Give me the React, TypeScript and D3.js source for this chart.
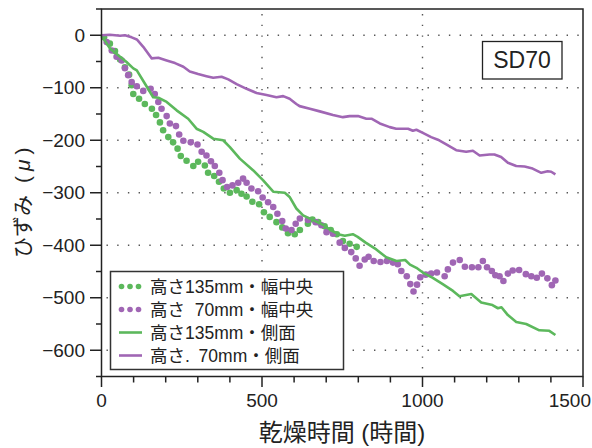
import React, { useRef, useEffect } from "react";
import * as d3 from "d3";

// [hours, strain (μ)]
const h135Center: [number, number][] = [
  [8, -4], [26, -16], [42, -30], [58, -46], [73, -61], [86, -75], [94, -95],
  [99, -112], [117, -121], [135, -131], [157, -140], [170, -152], [182, -166],
  [192, -181], [208, -194], [223, -204], [237, -216], [247, -230], [265, -239],
  [286, -249], [301, -241], [322, -248], [332, -262], [351, -268], [366, -279],
  [381, -292], [400, -300], [421, -295], [436, -302], [452, -307], [470, -317],
  [491, -322], [506, -337], [524, -346], [545, -356], [563, -366], [581, -377],
  [602, -379], [618, -371], [643, -359], [657, -351], [675, -356], [695, -364],
  [714, -371], [733, -379], [752, -392], [773, -397], [795, -403],
];

const h70Center: [number, number][] = [
  [16, -13], [32, -29], [47, -41], [63, -48], [73, -63], [83, -76], [94, -89],
  [110, -97], [130, -106], [153, -102], [166, -112], [177, -127], [187, -140],
  [203, -154], [213, -168], [232, -173], [242, -189], [255, -201], [278, -204],
  [299, -208], [312, -222], [327, -229], [341, -240], [353, -249], [367, -262],
  [377, -276], [391, -289], [408, -286], [426, -281], [441, -273], [452, -281],
  [467, -292], [488, -297], [502, -309], [519, -318], [535, -327], [548, -340],
  [563, -354], [574, -368], [592, -371], [605, -359], [618, -349], [643, -352],
  [667, -356], [685, -362], [701, -375], [721, -378], [742, -395], [758, -405],
  [778, -413], [792, -425], [804, -439], [820, -427], [832, -422], [848, -430],
  [869, -432], [889, -430], [908, -433], [923, -436], [934, -449], [951, -459],
  [962, -474], [972, -488], [983, -475], [993, -461], [1010, -456], [1027, -454],
  [1045, -452], [1069, -459], [1079, -446], [1095, -433], [1116, -428],
  [1132, -441], [1154, -442], [1174, -442], [1188, -430], [1201, -442],
  [1216, -449], [1227, -457], [1240, -459], [1252, -468], [1266, -454],
  [1281, -448], [1301, -447], [1322, -455], [1339, -459], [1356, -462],
  [1372, -454], [1389, -463], [1403, -476], [1414, -467],
];

const h135Side: [number, number][] = [
  [0, 0], [26, -25], [52, -38], [78, -51], [99, -63], [110, -67], [135, -92],
  [161, -118], [177, -119], [203, -127], [234, -143], [270, -159], [296, -178],
  [317, -184], [348, -197], [379, -200], [400, -213], [431, -235], [472, -257],
  [503, -276], [535, -298], [571, -300], [586, -308], [607, -330], [628, -343],
  [659, -352], [690, -361], [711, -370], [737, -379], [758, -382], [783, -379],
  [798, -384], [823, -395], [856, -408], [887, -423], [919, -430], [946, -428],
  [961, -437], [981, -443], [1001, -452], [1032, -462], [1063, -474],
  [1095, -487], [1115, -497], [1152, -493], [1183, -509], [1218, -514],
  [1235, -520], [1246, -518], [1266, -533], [1292, -546], [1323, -550],
  [1364, -562], [1395, -563], [1414, -571],
];

const h70Side: [number, number][] = [
  [0, 0], [26, 1], [58, -1], [73, 0], [94, -4], [110, -8], [130, -22],
  [156, -44], [177, -43], [203, -48], [229, -53], [255, -60], [275, -69],
  [301, -74], [327, -78], [348, -81], [374, -79], [395, -84], [421, -93],
  [452, -102], [483, -110], [514, -114], [545, -118], [566, -116], [586, -121],
  [607, -131], [617, -135], [649, -140], [680, -145], [721, -152], [752, -156],
  [773, -154], [799, -154], [825, -159], [841, -159], [867, -168], [898, -175],
  [918, -178], [955, -178], [970, -182], [981, -180], [1001, -186],
  [1027, -194], [1048, -199], [1074, -208], [1105, -219], [1136, -222],
  [1157, -220], [1178, -229], [1209, -227], [1224, -227], [1245, -232],
  [1266, -243], [1292, -249], [1318, -250], [1343, -254], [1370, -262],
  [1390, -259], [1401, -260], [1414, -265],
];

const xMajorTicks = [0, 500, 1000, 1500];
const yMajorTicks = [0, -100, -200, -300, -400, -500, -600];
const xGrid = [500, 1000];

const legendItems = [
  { label: "高さ135mm・幅中央", color: "#5cb85c", type: "dots" },
  { label: "高さ\u200770mm・幅中央", color: "#a066b4", type: "dots" },
  { label: "高さ135mm・側面", color: "#5cb85c", type: "line" },
  { label: "高さ.\u200270mm・側面", color: "#a066b4", type: "line" },
];

const GREEN = "#5cb85c";
const PURPLE = "#a066b4";
const FONT = "'Liberation Sans', Arial, 'Noto Sans CJK JP', sans-serif";

const App: React.FC = () => {
  const svgRef = useRef<SVGSVGElement>(null);
  const width = 592;
  const height = 448;

  useEffect(() => {
    if (!svgRef.current) return;
    const svg = d3.select(svgRef.current);
    svg.selectAll("*").remove();

    const x = d3.scaleLinear().domain([0, 1500]).range([101.5, 583]);
    const y = d3.scaleLinear().domain([-650, 50]).range([376.5, 9]);
    const [x0, x1] = x.range();
    const [y0, y1] = y.range();

    // dotted grid
    const grid = svg.append("g").attr("stroke", "#555").attr("stroke-width", 1.4)
      .attr("stroke-dasharray", "1.4 9.3");
    yMajorTicks.forEach((v) => {
      grid.append("line").attr("x1", x0 + 5).attr("x2", x1).attr("y1", y(v)).attr("y2", y(v));
    });
    xGrid.forEach((v) => {
      grid.append("line").attr("x1", x(v)).attr("x2", x(v)).attr("y1", y1 + 5).attr("y2", y0);
    });

    // ticks
    const axisG = svg.append("g").attr("stroke", "#222").attr("stroke-width", 1.5);
    d3.range(-650, 51, 50).forEach((v) => {
      const major = v % 100 === 0 && v >= -600 && v <= 0;
      axisG.append("line").attr("x1", x0 - (major ? 11.5 : 5.5)).attr("x2", x0)
        .attr("y1", y(v)).attr("y2", y(v));
    });
    d3.range(0, 1501, 100).forEach((v) => {
      const major = v % 500 === 0;
      axisG.append("line").attr("x1", x(v)).attr("x2", x(v))
        .attr("y1", y0).attr("y2", y0 + (major ? 10.5 : 6));
    });

    // data
    const line = d3.line<[number, number]>().x((d) => x(d[0])).y((d) => y(d[1]));
    svg.append("g").selectAll("circle").data(h135Center).enter().append("circle")
      .attr("cx", (d) => x(d[0])).attr("cy", (d) => y(d[1])).attr("r", 3.3).attr("fill", GREEN);
    svg.append("g").selectAll("circle").data(h70Center).enter().append("circle")
      .attr("cx", (d) => x(d[0])).attr("cy", (d) => y(d[1])).attr("r", 3.3).attr("fill", PURPLE);
    svg.append("path").datum(h135Side).attr("fill", "none").attr("stroke", GREEN)
      .attr("stroke-width", 2.6).attr("stroke-linejoin", "round").attr("d", line);
    svg.append("path").datum(h70Side).attr("fill", "none").attr("stroke", PURPLE)
      .attr("stroke-width", 2.6).attr("stroke-linejoin", "round").attr("d", line);

    // frame
    svg.append("rect").attr("x", x0).attr("y", y1).attr("width", x1 - x0).attr("height", y0 - y1)
      .attr("fill", "none").attr("stroke", "#222").attr("stroke-width", 1.5);

    // tick labels
    yMajorTicks.forEach((v) => {
      svg.append("text").attr("x", 85).attr("y", y(v) + 6.5).attr("text-anchor", "end")
        .style("font-family", FONT).style("font-size", "19px").attr("fill", "#222")
        .text(v === 0 ? "0" : `\u2212${Math.abs(v)}`);
    });
    xMajorTicks.forEach((v) => {
      const last = v === 1500;
      svg.append("text").attr("x", last ? 591 : x(v)).attr("y", 406.5)
        .attr("text-anchor", last ? "end" : "middle")
        .style("font-family", FONT).style("font-size", "19px").attr("fill", "#222")
        .text(String(v));
    });

    // axis titles
    svg.append("text").attr("x", 342).attr("y", 441).attr("text-anchor", "middle")
      .style("font-family", FONT).style("font-size", "24px").attr("fill", "#222")
      .text("乾燥時間 (時間)");
    const yt = svg.append("text").attr("transform", "rotate(-90)").attr("x", -258).attr("y", 30)
      .style("font-family", FONT).style("font-size", "21px").attr("fill", "#222");
    yt.append("tspan").text("ひずみ");
    yt.append("tspan").attr("dx", 12).text("(");
    yt.append("tspan").attr("dx", 5).style("font-style", "italic").text("μ");
    yt.append("tspan").attr("dx", 5).text(")");

    // SD70 label
    svg.append("rect").attr("x", 482.5).attr("y", 41.5).attr("width", 79.5).attr("height", 37.5)
      .attr("fill", "#fff").attr("stroke", "#222").attr("stroke-width", 1.3);
    svg.append("text").attr("x", 522).attr("y", 68).attr("text-anchor", "middle")
      .style("font-family", FONT).style("font-size", "23px").attr("fill", "#222").text("SD70");

    // legend
    const lg = svg.append("g");
    lg.append("rect").attr("x", 110.5).attr("y", 271.5).attr("width", 233).attr("height", 98)
      .attr("fill", "#fff").attr("stroke", "#333").attr("stroke-width", 1.5);
    legendItems.forEach((item, i) => {
      const cy = 286.5 + i * 23;
      if (item.type === "dots") {
        [121.5, 130, 138.5].forEach((cx) => {
          lg.append("circle").attr("cx", cx).attr("cy", cy).attr("r", 2.8).attr("fill", item.color);
        });
      } else {
        lg.append("line").attr("x1", 119).attr("x2", 142).attr("y1", cy).attr("y2", cy)
          .attr("stroke", item.color).attr("stroke-width", 2.6);
      }
      lg.append("text").attr("x", 150).attr("y", cy + 6.5).style("font-family", FONT)
        .style("font-size", "17.5px").attr("fill", "#222").text(item.label);
    });
  }, []);

  return (
    <div style={{ position: "absolute", left: 0, top: 0, background: "#fff" }}>
      <svg ref={svgRef} width={width} height={height} style={{ display: "block" }} />
    </div>
  );
};

export default App;
